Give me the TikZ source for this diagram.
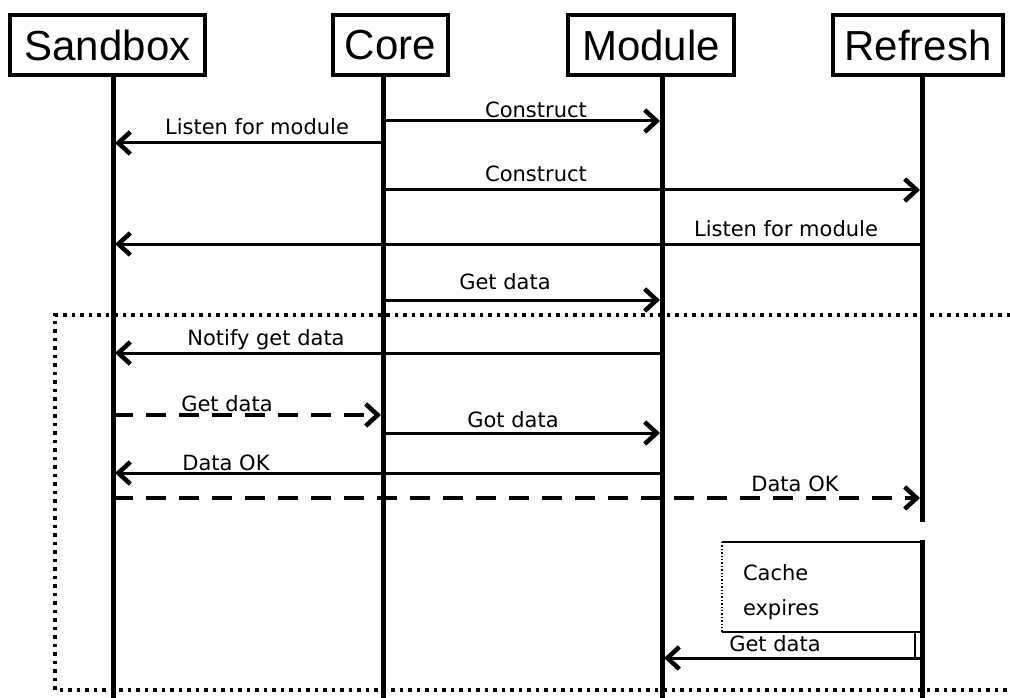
\documentclass[tikz,border=0pt]{standalone}
\usepackage{fontspec}
\setmainfont{Liberation Sans}
\newfontfamily\lblfont{DejaVu Sans}
\usetikzlibrary{arrows.meta}
\begin{document}
\begin{tikzpicture}[x=1pt,y=-1pt,
  actor/.style={draw,line width=4.5pt,inner sep=0pt,minimum height=60pt,font=\fontsize{42}{46}\selectfont},
  life/.style={line width=5pt},
  msg/.style={line width=3pt,-{Straight Barb[length=12pt,width=22pt,line width=4.5pt]}},
  reply/.style={msg,line width=3.5pt,dash pattern=on 20pt off 13pt},
  lbl/.style={font=\lblfont\fontsize{21}{24}\selectfont,inner sep=0pt},
  frame/.style={line width=3.5pt,dash pattern=on 3.5pt off 5pt},
  thinline/.style={line width=1.8pt}]
\useasboundingbox (0,0) rectangle (1010,698);
% actors
\node[actor,minimum width=195pt] (sandbox) at (107.5,45) {Sandbox};
\node[actor,minimum width=115pt] (core) at (390.5,45) {Core};
\node[actor,minimum width=166pt] (module) at (651,45) {Module};
\node[actor,minimum width=170pt] (refresh) at (918,45) {Refresh};
% lifeline coordinates
\coordinate (sbT) at (113,77);  \coordinate (sbB) at (113,698);
\coordinate (coT) at (383,77);  \coordinate (coB) at (383,698);
\coordinate (moT) at (662,77);  \coordinate (moB) at (662,698);
\coordinate (reT) at (922,77);  \coordinate (reB) at (922,698);
\coordinate (reG1) at (922,522); \coordinate (reG2) at (922,540);
\draw[life] (sbT) -- (sbB);
\draw[life] (coT) -- (coB);
\draw[life] (moT) -- (moB);
\draw[life] (reT) -- (reG1);
\draw[life] (reG2) -- (reB);
% frame
\coordinate (frTR) at (1010,315);
\coordinate (frTL) at (55,315);
\coordinate (frBL) at (55,690);
\coordinate (frBR) at (1010,690);
\draw[frame] (frTR) -- (frTL) -- (frBL) -- (frBR);
% messages
\coordinate (m1a) at (383,121); \coordinate (m1b) at (660,121);
\draw[msg] (m1a) -- (m1b);
\node[lbl] (l1) at (536,110) {Construct};
\coordinate (m2a) at (383,143); \coordinate (m2b) at (115,143);
\draw[msg] (m2a) -- (m2b);
\node[lbl] (l2) at (257,127) {Listen for module};
\coordinate (m3a) at (383,190); \coordinate (m3b) at (920,190);
\draw[msg] (m3a) -- (m3b);
\node[lbl] (l3) at (536,174) {Construct};
\coordinate (m4a) at (922,244); \coordinate (m4b) at (115,244);
\draw[msg] (m4a) -- (m4b);
\node[lbl] (l4) at (786,229) {Listen for module};
\coordinate (m5a) at (383,300); \coordinate (m5b) at (660,300);
\draw[msg] (m5a) -- (m5b);
\node[lbl] (l5) at (505,282) {Get data};
\coordinate (m6a) at (662,353); \coordinate (m6b) at (115,353);
\draw[msg] (m6a) -- (m6b);
\node[lbl] (l6) at (266,340) {Notify get data};
\coordinate (m7a) at (113,415); \coordinate (m7b) at (381,415);
\draw[reply] (m7a) -- (m7b);
\node[lbl] (l7) at (227,404) {Get data};
\coordinate (m8a) at (383,433); \coordinate (m8b) at (660,433);
\draw[msg] (m8a) -- (m8b);
\node[lbl] (l8) at (513,420) {Got data};
\coordinate (m9a) at (662,473); \coordinate (m9b) at (115,473);
\draw[msg] (m9a) -- (m9b);
\node[lbl] (l9) at (226,463) {Data OK};
\coordinate (m10a) at (113,498); \coordinate (m10b) at (920,498);
\draw[reply] (m10a) -- (m10b);
\node[lbl] (l10) at (795,484) {Data OK};
% cache box
\node[inner xsep=21pt,inner ysep=0pt,minimum width=198pt,minimum height=90pt,text width=156pt,align=left,
      font=\lblfont\fontsize{21}{35}\selectfont] (cache) at (821,592) {Cache\\expires};
\coordinate (cNW) at (722,542); \coordinate (cNE) at (920,542);
\coordinate (cSW) at (722,632); \coordinate (cSE) at (920,632);
\draw[thinline] (cSW) -- (cSE);
\draw[thinline] (cNW) -- (cNE);
\draw[line width=1.4pt,dotted] (cNW) -- (cSW);
\coordinate (actT) at (915,632); \coordinate (actB) at (915,658);
\draw[thinline] (actT) -- (actB);
\coordinate (m11a) at (922,658); \coordinate (m11b) at (664,658);
\draw[msg] (m11a) -- (m11b);
\node[lbl] (l11) at (775,644) {Get data};
\end{tikzpicture}
\end{document}
